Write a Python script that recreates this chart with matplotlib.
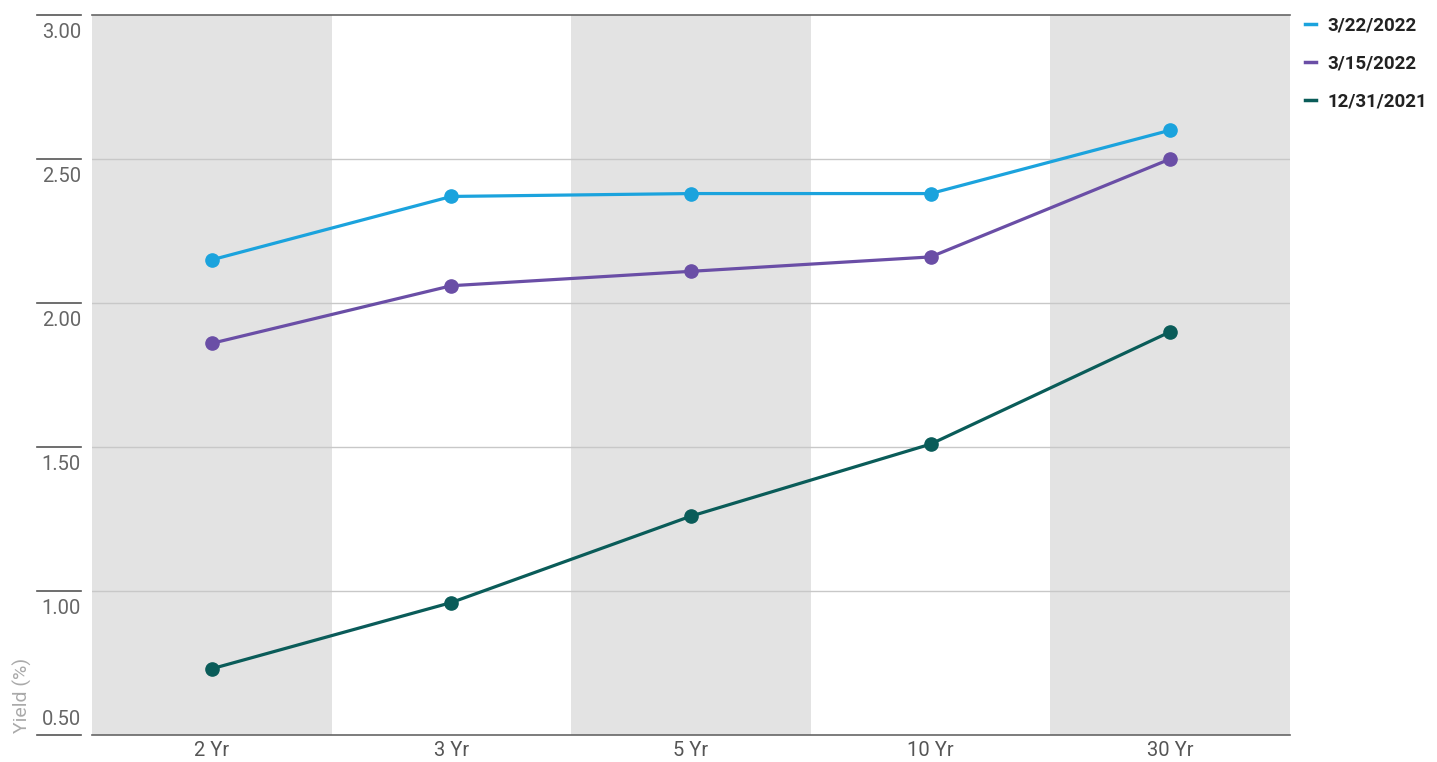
import matplotlib
matplotlib.use("Agg")
import matplotlib.pyplot as plt
import matplotlib.transforms as mtransforms
from matplotlib import font_manager

# narrow font if one is around
names = {f.name for f in font_manager.fontManager.ttflist}
family = [n for n in ["Liberation Sans Narrow", "DejaVu Sans Condensed", "Roboto"] if n in names] + ["DejaVu Sans"]
plt.rcParams['font.family'] = family

# yields by maturity
maturities = ['2 Yr', '3 Yr', '5 Yr', '10 Yr', '30 Yr']
yield_0322 = [2.15, 2.37, 2.38, 2.38, 2.60]
yield_0315 = [1.86, 2.06, 2.11, 2.16, 2.50]
yield_1231 = [0.73, 0.96, 1.26, 1.51, 1.90]
series = [('3/22/2022', yield_0322, '#1ba3dd'),
          ('3/15/2022', yield_0315, '#6a4ea6'),
          ('12/31/2021', yield_1231, '#0a5c59')]
yticks = [0.5, 1.0, 1.5, 2.0, 2.5, 3.0]

fig = plt.figure(figsize=(14.37, 7.62), dpi=100)
ax = fig.add_axes([92/1437, 1-735/762, 1198/1437, 720/762])

x = list(range(len(maturities)))
# alternating shaded columns
for i in x[::2]:
    ax.axvspan(i-0.5, i+0.5, color='#e3e3e3', lw=0, zorder=0)

for yv in yticks[1:-1]:
    ax.axhline(yv, color='#c8c8c8', lw=1, zorder=1)

for label, vals, col in series:
    ax.plot(x, vals, color=col, lw=2.3, marker='o', ms=9.5, label=label, zorder=3)

ax.set_xlim(-0.5, len(maturities)-0.5)
ax.set_ylim(0.5, 3.0)
for s in ['left', 'right']:
    ax.spines[s].set_visible(False)
for s in ['top', 'bottom']:
    ax.spines[s].set_color('#666666')
    ax.spines[s].set_linewidth(1.2)

ax.set_xticks(x)
ax.set_xticklabels(maturities, fontsize=14.5, color='#555555')
ax.tick_params(axis='x', length=0, pad=4)
ax.set_yticks([])

# y labels sit under short marks left of the plot (lowest one above its mark)
trans = mtransforms.blended_transform_factory(ax.transAxes, ax.transData)
for yv in yticks:
    ax.plot([-0.046, -0.0092], [yv, yv], transform=trans, color='#555555', lw=1.2, clip_on=False)
    low = yv == yticks[0]
    ax.annotate(f'{yv:.2f}', xy=(-0.0092, yv), xycoords=trans, xytext=(0, 4 if low else -6),
                textcoords='offset points', ha='right', va='bottom' if low else 'top',
                fontsize=14.5, color='#666666')

fig.text(22/1437, 1-695/762, 'Yield (%)', rotation=90, ha='center', va='center',
         fontsize=14, color='#aaaaaa')

leg = ax.legend(loc='upper left', bbox_to_anchor=(1.006, 1.008), frameon=False,
                handlelength=0.6, handletextpad=0.6, labelspacing=1.05,
                prop={'size': 13.5, 'weight': 'bold'}, borderaxespad=0)
for h in leg.get_lines():
    h.set_marker('')
    h.set_linewidth(2.5)
for t in leg.get_texts():
    t.set_color('#222222')

fig.savefig('out.png', dpi=100)
